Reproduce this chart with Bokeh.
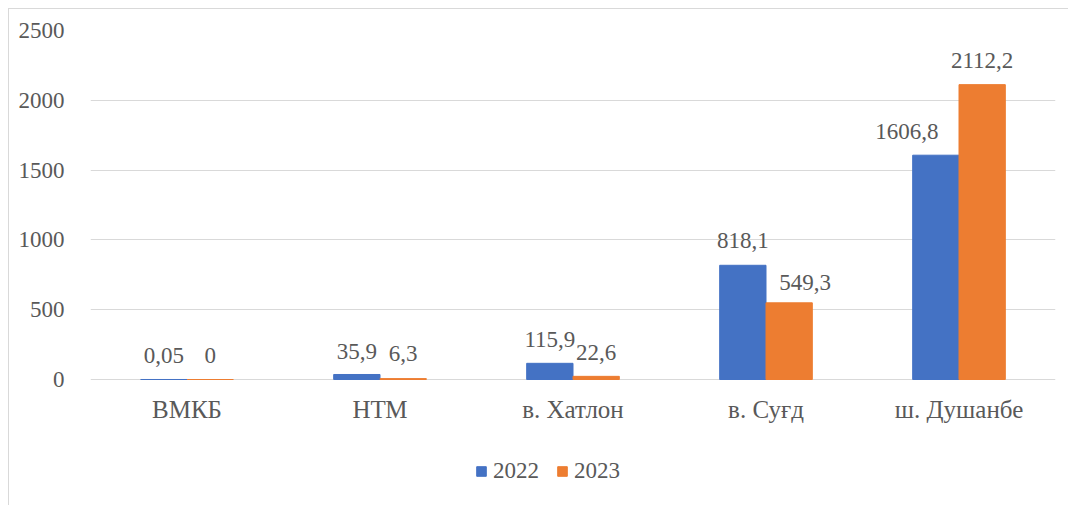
from bokeh.plotting import figure
from bokeh.models import ColumnDataSource, FactorRange, FixedTicker, Legend, LegendItem, Range1d
from bokeh.transform import dodge
from bokeh.core.properties import value
from bokeh.embed import file_html
from bokeh.resources import INLINE

categories = ["ВМКБ", "НТМ", "в. Хатлон", "в. Суғд", "ш. Душанбе"]
values_2022 = [0.05, 35.9, 115.9, 818.1, 1606.8]
values_2023 = [0, 6.3, 22.6, 549.3, 2112.2]
series_names = ["2022", "2023"]
y_ticks = [0, 500, 1000, 1500, 2000, 2500]
y_max = 2500

# small manual label nudges (pixels), as in the original chart
label_dx_2022 = [0, 0, 0, 0, -29]
label_dx_2023 = [0, 0, 0, 16, 0]
label_dy_2022 = [-24, -23, -24, -25, -24]
label_dy_2023 = [-24, -25, -24, -20, -24]

FONT = "'Liberation Serif', 'Times New Roman', serif"
TXT = "#595959"
FS = "23px"
FS_CAT = "25px"

# layout (canvas pixels)
W, H = 1060, 497
TOP = 21          # y of the top gridline
ZERO = 370        # y of the zero line
y_min = -y_max * (H - ZERO) / (ZERO - TOP)

def fmt(v):
    return f"{v:g}".replace(".", ",")

src22 = ColumnDataSource(dict(cat=categories, val=values_2022,
                              lab=[fmt(v) for v in values_2022],
                              dx=label_dx_2022, dy=label_dy_2022))
src23 = ColumnDataSource(dict(cat=categories, val=values_2023,
                              lab=[fmt(v) for v in values_2023],
                              dx=label_dx_2023, dy=label_dy_2023))

p = figure(width=W, height=H, output_backend="svg", toolbar_location=None,
           x_range=FactorRange(*categories, range_padding=0),
           y_range=Range1d(y_min, y_max),
           min_border_left=81, min_border_right=14, min_border_top=TOP, min_border_bottom=0)
p.styles = {"margin-left": "8px", "margin-top": "8px",
            "border-left": "1px solid #d9d9d9", "border-top": "1px solid #d9d9d9"}
p.outline_line_color = None
p.background_fill_color = "white"
p.border_fill_color = "white"

bw = 0.24
r22 = p.vbar(x=dodge("cat", -0.12, range=p.x_range), top="val", width=bw, bottom=0,
             source=src22, fill_color="#4472C4", line_color="#4472C4")
r23 = p.vbar(x=dodge("cat", 0.12, range=p.x_range), top="val", width=bw, bottom=0,
             source=src23, fill_color="#ED7D31", line_color="#ED7D31")

for src, off in ((src22, -0.12), (src23, 0.12)):
    p.text(x=dodge("cat", off, range=p.x_range), y="val", text="lab", source=src,
           x_offset="dx", y_offset="dy",
           text_align="center", text_baseline="alphabetic",
           text_font=value(FONT), text_font_size=FS, text_color=TXT)

p.xgrid.grid_line_color = None
p.ygrid.grid_line_color = "#d9d9d9"
p.ygrid.grid_line_width = 1
p.yaxis.ticker = FixedTicker(ticks=y_ticks)
p.xaxis.fixed_location = 0

for ax in (p.xaxis, p.yaxis):
    ax.axis_line_color = None
    ax.major_tick_line_color = None
    ax.minor_tick_line_color = None
    ax.major_label_text_font = FONT
    ax.major_label_text_font_size = FS
    ax.major_label_text_color = TXT
p.xaxis.major_label_text_font_size = FS_CAT
p.yaxis.major_label_standoff = 20
p.xaxis.major_label_standoff = 10

legend = Legend(items=[LegendItem(label=series_names[0], renderers=[r22]),
                       LegendItem(label=series_names[1], renderers=[r23])],
                orientation="horizontal", location=(385, 22),
                glyph_width=12, glyph_height=12, label_standoff=6, spacing=17,
                padding=0, margin=0, border_line_color=None, background_fill_alpha=0,
                label_text_font=FONT, label_text_font_size=FS, label_text_color=TXT)
p.add_layout(legend, "center")

open("out.html", "w").write(file_html(p, INLINE))
